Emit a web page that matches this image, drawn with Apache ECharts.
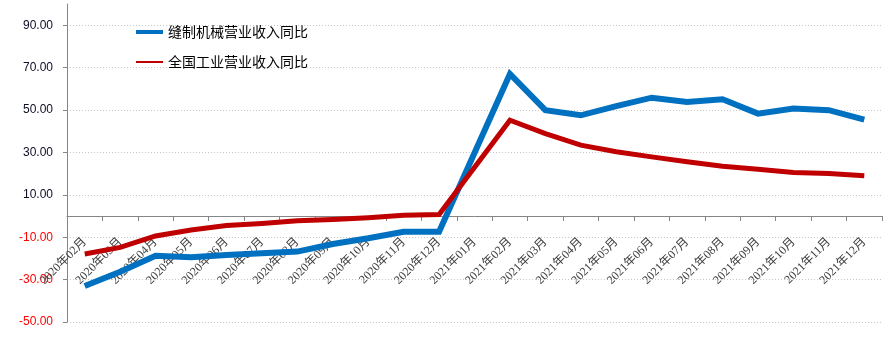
<!DOCTYPE html>
<html>
<head>
<meta charset="utf-8">
<script src="https://cdn.jsdelivr.net/npm/echarts@6/dist/echarts.min.js"></script>
<style>
  html, body { margin: 0; padding: 0; background: #ffffff; }
  #chart { width: 887px; height: 344px; }
</style>
</head>
<body>
<div id="chart"></div>
<script>
// Monthly categories (Jan 2021 has no reading; the line bridges the gap)
const months = [
  '2020年02月', '2020年03月', '2020年04月', '2020年05月', '2020年06月', '2020年07月',
  '2020年08月', '2020年09月', '2020年10月', '2020年11月', '2020年12月',
  '2021年01月', '2021年02月', '2021年03月', '2021年04月', '2021年05月', '2021年06月',
  '2021年07月', '2021年08月', '2021年09月', '2021年10月', '2021年11月', '2021年12月'
];

// 缝制机械营业收入同比 (%)
const sewingMachineryYoY = [
  -33.0, -26.3, -18.8, -19.4, -18.4, -17.6, -16.8, -13.2, -10.5, -7.4, -7.4,
  null, 67.0, 49.9, 47.5, 51.8, 55.8, 53.8, 55.1, 48.3, 50.7, 49.9, 45.5
];

// 全国工业营业收入同比 (%)
const nationalIndustryYoY = [
  -17.9, -14.8, -9.4, -6.6, -4.5, -3.5, -2.2, -1.6, -0.8, 0.3, 0.7,
  null, 45.2, 38.9, 33.4, 30.3, 27.9, 25.6, 23.5, 22.1, 20.5, 20.1, 19.0
];

const seriesNames = ['缝制机械营业收入同比', '全国工业营业收入同比'];
const BLUE = '#0070C0';
const RED = '#C00000';

// Plot area and value range
const W = 887, H = 344;
const GRID = { left: 67, right: 5, top: 4, bottom: 22 };
const Y_MIN = -50, Y_MAX = 100;

// The category axis sits on the zero line; shift it up from the grid bottom
const plotH = H - GRID.top - GRID.bottom;
const zeroFromBottom = (0 - Y_MIN) / (Y_MAX - Y_MIN) * plotH;

const chart = echarts.init(document.getElementById('chart'), null, { renderer: 'canvas' });

const legendText = {
  fontFamily: "'Noto Sans CJK SC', sans-serif",
  fontSize: 14,
  color: '#000000'
};

chart.setOption({
  animation: false,
  backgroundColor: '#ffffff',
  grid: Object.assign({ containLabel: false, outerBoundsMode: 'none' }, GRID),
  legend: [
    {
      data: [seriesNames[0]],
      left: 136, top: 25, padding: 0,
      icon: 'rect', itemWidth: 27, itemHeight: 4, itemGap: 4,
      textStyle: legendText
    },
    {
      data: [seriesNames[1]],
      left: 136, top: 55, padding: 0,
      icon: 'rect', itemWidth: 27, itemHeight: 2, itemGap: 4,
      textStyle: legendText
    }
  ],
  xAxis: {
    type: 'category',
    data: months,
    boundaryGap: true,
    offset: -zeroFromBottom,
    axisLine: { onZero: false, lineStyle: { color: '#868686', width: 1 } },
    axisTick: { show: true, length: 5, inside: false, lineStyle: { color: '#868686' } },
    axisLabel: {
      interval: 0,
      rotate: 45,
      margin: 24,
      fontSize: 12,
      color: '#404040',
      fontFamily: "'Liberation Serif', 'Noto Sans CJK SC', serif"
    },
    splitLine: { show: false }
  },
  yAxis: {
    type: 'value',
    min: Y_MIN,
    max: Y_MAX,
    interval: 20,
    axisLine: { show: true, lineStyle: { color: '#868686', width: 1 } },
    axisTick: { show: true, length: 4, lineStyle: { color: '#868686' } },
    axisLabel: {
      margin: 14,
      fontSize: 12,
      fontFamily: "'Liberation Sans', Arial, sans-serif",
      showMaxLabel: false,
      formatter: v => v.toFixed(2),
      color: v => (Number(v) < 0 ? '#FF0000' : '#0d0d26')
    },
    splitLine: {
      show: true,
      showMaxLine: false,
      lineStyle: { color: '#c8c8c8', type: [1, 2], width: 1 }
    }
  },
  series: [
    {
      name: seriesNames[0],
      type: 'line',
      data: sewingMachineryYoY,
      connectNulls: true,
      symbol: 'none',
      color: BLUE,
      lineStyle: { color: BLUE, width: 6, join: 'miter' },
      z: 2
    },
    {
      name: seriesNames[1],
      type: 'line',
      data: nationalIndustryYoY,
      connectNulls: true,
      symbol: 'none',
      color: RED,
      lineStyle: { color: RED, width: 5, join: 'miter' },
      z: 3
    }
  ]
});
</script>
</body>
</html>
